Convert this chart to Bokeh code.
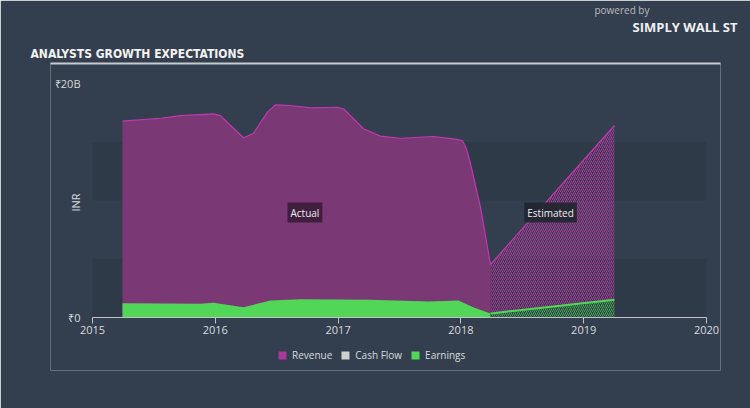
from bokeh.plotting import figure
from bokeh.models import (Range1d, FixedTicker, Label, BoxAnnotation, Legend, LegendItem,
                          LinearAxis, Title)
from bokeh.embed import file_html
from bokeh.resources import INLINE
import math

# ---- data (values in ₹ billions, dates as decimal years) ----
rev_dates = [2015.244, 2015.554, 2015.717, 2015.985, 2016.042, 2016.124, 2016.23, 2016.31,
             2016.425, 2016.49, 2016.61, 2016.775, 2016.995, 2017.044, 2017.207, 2017.345,
             2017.508, 2017.777, 2017.94, 2018.013, 2018.045, 2018.078, 2018.16, 2018.241]
revenue = [16.78, 17.03, 17.26, 17.41, 17.26, 16.41, 15.36, 15.73,
           17.55, 18.18, 18.12, 17.92, 17.97, 17.84, 16.13, 15.50,
           15.32, 15.47, 15.27, 15.13, 14.4, 13.16, 9.40, 4.53]
earn_dates = [2015.244, 2015.88, 2015.985, 2016.23, 2016.45, 2016.694, 2017.26, 2017.74,
              2017.98, 2018.1, 2018.241]
earnings = [1.22, 1.17, 1.26, 0.88, 1.45, 1.56, 1.51, 1.37, 1.45, 0.88, 0.34]
est_dates = [2018.241, 2019.25]
est_revenue = [4.53, 16.41]
est_earnings = [0.34, 1.51]
x_ticks = [2015, 2016, 2017, 2018, 2019, 2020]
y_ticks = [0, 20]
y_tick_labels = {0: "₹0", 20: "₹20B"}
legend_names = ["Revenue", "Cash Flow", "Earnings"]

BG = "#333f4e"
BAND = "#2e3a48"
REV_FILL = "#7a3975"
REV_LINE = "#c337af"
EARN = "#52d657"
TXT = "#d8dbde"
FONT = "Open Sans"

# frame: x 50..720 px, y 63..370 px ; 2015 -> 92px, 2020 -> 706px, 0 -> 317px, 20B -> 83px
p = figure(width=750, height=408, output_backend="svg", toolbar_location=None, title=None,
           x_range=Range1d(2014.658, 2020.114), y_range=Range1d(-4.53, 21.71),
           min_border_left=50, min_border_right=30, min_border_top=63, min_border_bottom=38)
p.background_fill_color = BG
p.border_fill_color = BG
p.outline_line_color = None
p.outline_line_alpha = 0
p.outline_line_width = 0
p.grid.visible = False

for b, t in [(0, 5), (10, 15)]:
    p.add_layout(BoxAnnotation(left=2015, right=2020, bottom=b, top=t, fill_color=BAND,
                               fill_alpha=1, line_color=None, line_alpha=0, level="underlay"))

# actual
p.varea(x=rev_dates, y1=0, y2=revenue, fill_color=REV_FILL, fill_alpha=1)
p.line(x=rev_dates, y=revenue, line_color=REV_LINE, line_width=1.2)
r_earn = p.varea(x=earn_dates, y1=0, y2=earnings, fill_color=EARN, fill_alpha=1)

# estimated
p.varea(x=est_dates, y1=0, y2=est_revenue, fill_alpha=0, hatch_pattern="/",
        hatch_color="#b0389f", hatch_scale=4, hatch_weight=1)
p.line(x=est_dates, y=est_revenue, line_color=REV_LINE, line_width=1.2)
p.varea(x=est_dates, y1=0, y2=est_earnings, fill_color=BG, fill_alpha=1, hatch_pattern="/",
        hatch_color="#3fa84a", hatch_scale=4, hatch_weight=1)
p.line(x=est_dates, y=est_earnings, line_color=EARN, line_width=2)

# axes (drawn at data positions inside the frame)
p.xaxis.fixed_location = 0
p.xaxis.bounds = (2015, 2020)
p.xaxis.ticker = FixedTicker(ticks=x_ticks)
p.xaxis.axis_line_color = "#c0c4c8"
p.xaxis.major_tick_line_color = "#c0c4c8"
p.xaxis.major_tick_in = 0
p.xaxis.major_tick_out = 6
p.xaxis.minor_tick_line_color = None
p.xaxis.major_label_text_color = TXT
p.xaxis.major_label_text_font = FONT
p.xaxis.major_label_text_font_size = "11px"
p.xaxis.major_label_standoff = 2

p.yaxis.fixed_location = 2015
p.yaxis.ticker = FixedTicker(ticks=y_ticks)
p.yaxis.major_label_overrides = y_tick_labels
p.yaxis.axis_line_color = None
p.yaxis.major_tick_line_color = None
p.yaxis.minor_tick_line_color = None
p.yaxis.major_tick_out = 0
p.yaxis.major_label_text_color = TXT
p.yaxis.major_label_text_font = FONT
p.yaxis.major_label_text_font_size = "11px"
p.yaxis.major_label_standoff = 12

p.add_layout(Label(x=25, y=168, x_units="screen", y_units="screen", text="INR",
                   angle=math.pi / 2, text_align="center", text_baseline="middle",
                   text_color=TXT, text_font=FONT, text_font_size="11px"))

# header rule (axis line only) just above the frame
rule = LinearAxis(ticker=FixedTicker(ticks=[]), axis_line_color="#c8ccd0", axis_line_width=2,
                  major_tick_line_color=None, minor_tick_line_color=None,
                  major_label_text_alpha=0)
p.add_layout(rule, "above")
p.add_layout(Title(text="ANALYSTS GROWTH EXPECTATIONS", align="left", offset=-20, standoff=6,
                   text_color="#f2f2f2", text_font="DejaVu Sans Condensed",
                   text_font_style="bold", text_font_size="12px"), "above")
p.add_layout(Title(text="SIMPLY WALL ST", align="right", offset=-17, standoff=12,
                   text_color="#f0f0f0", text_font=FONT, text_font_style="bold",
                   text_font_size="13px"), "above")
p.add_layout(Title(text="powered by", align="right", offset=71, standoff=-14,
                   text_color="#b8bcc0", text_font=FONT, text_font_style="normal",
                   text_font_size="10px"), "above")

# legend-only swatch renderers (hidden in the plot)
r_rev_sw = p.varea(x=rev_dates, y1=0, y2=revenue, fill_color="#a53a9c", visible=False)
r_cf_sw = p.varea(x=est_dates, y1=0, y2=est_earnings, fill_color="#d0d0d0", visible=False)
legend = Legend(items=[LegendItem(label=legend_names[0], renderers=[r_rev_sw]),
                       LegendItem(label=legend_names[1], renderers=[r_cf_sw]),
                       LegendItem(label=legend_names[2], renderers=[r_earn])],
                location=(227, 8), orientation="horizontal",
                glyph_width=10, glyph_height=10, label_standoff=5, spacing=8,
                padding=0, margin=0, background_fill_alpha=0, border_line_color=None,
                label_text_color=TXT, label_text_font=FONT, label_text_font_size="10px",
                label_height=10)
p.add_layout(legend)

p.add_layout(Label(x=2016.73, y=8.97, text="Actual", text_align="center", text_baseline="middle",
                   text_color="#eeeeee", text_font=FONT, text_font_size="10px",
                   background_fill_color="#3a1c38", background_fill_alpha=0.9, padding=3))
p.add_layout(Label(x=2018.73, y=8.97, text="Estimated", text_align="center", text_baseline="middle",
                   text_color="#eeeeee", text_font=FONT, text_font_size="10px",
                   background_fill_color="#1f252d", background_fill_alpha=0.9, padding=3))

open("out.html", "w").write(file_html(p, INLINE))
